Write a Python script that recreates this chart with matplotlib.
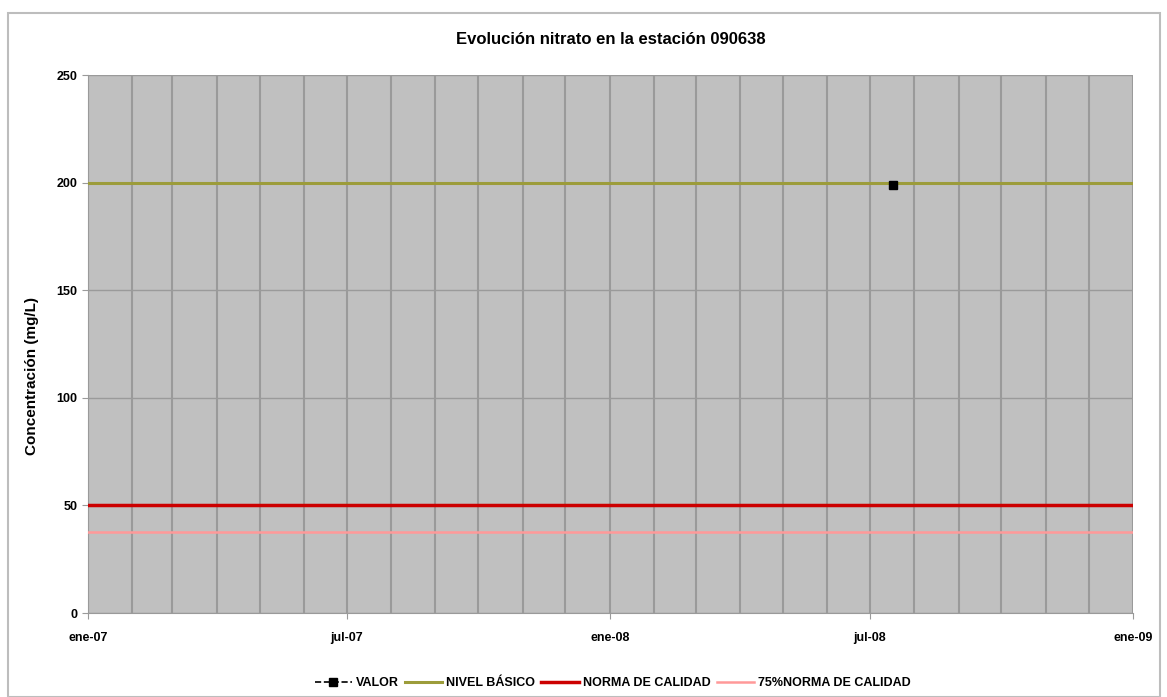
import matplotlib
matplotlib.use("Agg")
import matplotlib.pyplot as plt
import matplotlib.dates as mdates
from matplotlib.patches import Rectangle
import numpy as np
import datetime as dt

# Data
valor_dates = [dt.date(2008, 7, 17)]
valor_values = [199]
nivel_basico = 200
norma_calidad = 50
norma_75 = 37.5
x_start = dt.date(2007, 1, 1)
x_end = dt.date(2009, 1, 1)
title = "Evolución nitrato en la estación 090638"
ylabel = "Concentración (mg/L)"

plt.rcParams['font.family'] = ['Liberation Sans', 'DejaVu Sans']
plt.rcParams['font.weight'] = 'bold'

fig = plt.figure(figsize=(11.67, 6.97), dpi=100)
fig.patches.append(Rectangle((8/1167, 0.0), (1160-8)/1167, 1 - 13/697, transform=fig.transFigure,
                             fill=False, edgecolor='#bdbdbd', linewidth=1.5))
ax = fig.add_axes([88/1167, 1-613/697, (1133-88)/1167, (613-75)/697])
ax.set_facecolor('#c0c0c0')

ax.plot([x_start, x_end], [nivel_basico]*2, color='#9c9c3a', lw=2.2, label='NIVEL BÁSICO', zorder=3)
ax.plot([x_start, x_end], [norma_calidad]*2, color='#cc0000', lw=2.5, label='NORMA DE CALIDAD', zorder=3)
ax.plot([x_start, x_end], [norma_75]*2, color='#ff9999', lw=1.8, label='75%NORMA DE CALIDAD', zorder=3)
ax.plot(valor_dates, valor_values, color='black', ls='--', marker='s', ms=6, lw=1.2, label='VALOR', zorder=4)

ax.set_xlim(x_start, x_end)
ax.set_ylim(0, 250)
ax.set_yticks(np.arange(0, 251, 50))
ax.xaxis.set_major_locator(mdates.MonthLocator(bymonth=[1, 7]))
months = {1: 'ene', 7: 'jul'}
ax.xaxis.set_major_formatter(plt.FuncFormatter(
    lambda v, p: f"{months[mdates.num2date(v).month]}-{mdates.num2date(v).year % 100:02d}"))
ax.xaxis.set_minor_locator(mdates.MonthLocator())
ax.grid(True, which='both', axis='x', color='#9a9a9a', lw=1.5)
ax.grid(True, which='major', axis='y', color='#9a9a9a', lw=1.0)
ax.set_axisbelow(True)
for s in ['top', 'right']:
    ax.spines[s].set_visible(False)
for s in ['left', 'bottom']:
    ax.spines[s].set_color('#9a9a9a')
ax.tick_params(axis='both', which='major', labelsize=9, color='#9a9a9a', length=4)
ax.tick_params(axis='x', which='minor', length=0)
ax.tick_params(axis='x', pad=10)

ax.set_title(title, fontsize=12, pad=22, fontweight='bold')
ax.set_ylabel(ylabel, fontsize=11, fontweight='bold')
ax.yaxis.set_label_coords(-0.047, 0.44)

h, l = ax.get_legend_handles_labels()
order = [3, 0, 1, 2]
fig.legend([h[i] for i in order], [l[i] for i in order], loc='center', bbox_to_anchor=(0.525, 1-683/697),
           ncol=4, frameon=False, fontsize=9, handlelength=3.0, columnspacing=0.5, handletextpad=0.3)

fig.savefig('out.png', dpi=100)
